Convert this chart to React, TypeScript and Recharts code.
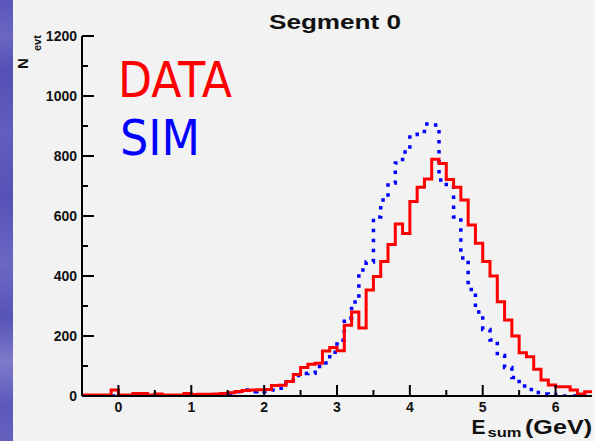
import React from 'react';
import { ComposedChart, Line, XAxis, YAxis, Customized } from 'recharts';

// Histogram binning (GeV)
const BIN_START = -0.5;
const BIN_WIDTH = 0.1;
const X_MIN = -0.5;
const X_MAX = 6.5;
const Y_MAX = 1200;

// DATA counts per 0.1 GeV bin, from -0.5 to 6.5 GeV
const dataCounts = [
  3, 3, 3, 3, 20, 3, 3, 8, 8, 3,
  7, 3, 3, 3, 8, 5, 6, 6, 7, 8,
  11, 15, 18, 20, 21, 22, 35, 36, 48, 72,
  95, 106, 109, 150, 162, 151, 236, 280, 227, 353,
  398, 448, 505, 573, 542, 648, 696, 723, 789, 775,
  722, 696, 653, 570, 509, 448, 400, 314, 253, 200,
  144, 131, 89, 53, 37, 31, 31, 20, 7, 14,
];

// SIM counts per 0.1 GeV bin, from -0.5 to 6.5 GeV
const simCounts = [
  0, 0, 0, 0, 0, 0, 0, 0, 0, 0,
  0, 0, 0, 0, 0, 1, 1, 1, 0, 3,
  8, 14, 20, 14, 15, 14, 20, 26, 45, 68,
  75, 76, 98, 110, 146, 186, 260, 313, 420, 447,
  597, 653, 710, 777, 813, 872, 882, 907, 903, 720,
  705, 597, 460, 355, 280, 222, 187, 135, 95, 62,
  33, 22, 12, 7, 5, 2, 0, 0, 0, 0,
];

const xTicks = [0, 0.5, 1, 1.5, 2, 2.5, 3, 3.5, 4, 4.5, 5, 5.5, 6];
const xTickLabels = ['0', '1', '2', '3', '4', '5', '6'];
const yTicks = [0, 100, 200, 300, 400, 500, 600, 700, 800, 900, 1000, 1100, 1200];
const yTickLabels = ['0', '200', '400', '600', '800', '1000', '1200'];

const titleText = 'Segment 0';
const seriesNames = ['DATA', 'SIM'];

const rows = dataCounts.map((d, i) => ({
  e: Number((BIN_START + i * BIN_WIDTH).toFixed(2)),
  data: d,
  sim: simCounts[i],
}));
rows.push({
  e: Number((BIN_START + dataCounts.length * BIN_WIDTH).toFixed(2)),
  data: dataCounts[dataCounts.length - 1],
  sim: simCounts[simCounts.length - 1],
});

const FONT = "'Liberation Sans', Arial, Helvetica, sans-serif";

const XTick = (props: any) => {
  const { x, y, payload } = props;
  const v = payload.value;
  const label = String(v);
  const major = xTickLabels.includes(label);
  return (
    <g>
      <line x1={x} x2={x} y1={y} y2={y - (major ? 11 : 6)} stroke="#000" strokeWidth={2} />
      {major && (
        <text x={x} y={y + 16} textAnchor="middle" fontSize={14} fontWeight="bold" fontFamily={FONT} fill="#111">
          {label}
        </text>
      )}
    </g>
  );
};

const YTick = (props: any) => {
  const { x, y, payload } = props;
  const label = String(payload.value);
  const major = yTickLabels.includes(label);
  return (
    <g>
      <line x1={x} x2={x + (major ? 12 : 6)} y1={y} y2={y} stroke="#000" strokeWidth={2} />
      {major && (
        <text x={x - 5} y={y + 5} textAnchor="end" fontSize={14} fontWeight="bold" fontFamily={FONT} fill="#111">
          {label}
        </text>
      )}
    </g>
  );
};

const Decorations = () => (
  <g>
    <text x={269} y={29} fontSize={21} fontWeight="bold" fontFamily={FONT} fill="#111" textLength={132} lengthAdjust="spacingAndGlyphs">
      {titleText}
    </text>
    <text x={118} y={97} fontSize={50} fontFamily="'DejaVu Sans', Tahoma, sans-serif" fill="#ff0000" textLength={114} lengthAdjust="spacingAndGlyphs">
      {seriesNames[0]}
    </text>
    <text x={120} y={155} fontSize={50} fontFamily="'DejaVu Sans', Tahoma, sans-serif" fill="#0000ff" textLength={80} lengthAdjust="spacingAndGlyphs">
      {seriesNames[1]}
    </text>
    {/* y-axis title N_evt */}
    <text transform="rotate(-90, 28, 69)" x={28} y={69} fontSize={15} fontWeight="bold" fontFamily={FONT} fill="#111">
      N
    </text>
    <text transform="rotate(-90, 41, 51)" x={41} y={51} fontSize={11} fontWeight="bold" fontFamily={FONT} fill="#111">
      evt
    </text>
    {/* x-axis title E_sum (GeV) */}
    <text x={471.5} y={434} fontSize={21} fontWeight="bold" fontFamily={FONT} fill="#111">
      E
    </text>
    <text x={487.5} y={437} fontSize={13} fontWeight="bold" fontFamily={FONT} fill="#111" textLength={34} lengthAdjust="spacingAndGlyphs">
      sum
    </text>
    <text x={525} y={434} fontSize={20} fontWeight="bold" fontFamily={FONT} fill="#111" textLength={67} lengthAdjust="spacingAndGlyphs">
      (GeV)
    </text>
  </g>
);

export default function App() {
  return (
    <div style={{ position: 'absolute', left: 0, top: 0, width: 595, height: 441, background: '#f2f2f2', overflow: 'hidden' }}>
      <div
        style={{
          position: 'absolute',
          left: 0,
          top: 0,
          width: 13,
          height: 441,
          background:
            'linear-gradient(180deg, #5a56ba 0%, #6a66c2 8%, #5450b4 16%, #625ebd 30%, #5652b6 45%, #6b68c4 60%, #5754b7 72%, #7d7acb 82%, #5b58ba 92%, #6561be 100%)',
        }}
      />
      <div style={{ position: 'absolute', left: 0, top: 0 }}>
        <ComposedChart width={595} height={441} data={rows} margin={{ top: 36, right: 3, bottom: 15, left: 22 }}>
          <XAxis
            dataKey="e"
            type="number"
            domain={[X_MIN, X_MAX]}
            ticks={xTicks}
            interval={0}
            allowDataOverflow
            tickSize={0}
            tickMargin={0}
            height={30}
            axisLine={{ stroke: '#000', strokeWidth: 2 }}
            tickLine={false}
            tick={XTick}
          />
          <XAxis
            xAxisId="top"
            orientation="top"
            type="number"
            domain={[X_MIN, X_MAX]}
            height={0}
            tick={false}
            tickLine={false}
            axisLine={{ stroke: '#222', strokeWidth: 1.5 }}
          />
          <YAxis
            type="number"
            domain={[0, Y_MAX]}
            ticks={yTicks}
            interval={0}
            allowDataOverflow
            tickSize={0}
            tickMargin={0}
            width={60}
            axisLine={{ stroke: '#000', strokeWidth: 2 }}
            tickLine={false}
            tick={YTick}
          />
          <YAxis
            yAxisId="right"
            orientation="right"
            type="number"
            domain={[0, Y_MAX]}
            width={0}
            tick={false}
            tickLine={false}
            axisLine={{ stroke: '#222', strokeWidth: 1.5 }}
          />
          <Line
            dataKey="sim"
            type="stepAfter"
            stroke="#0000ff"
            strokeWidth={3.5}
            strokeDasharray="3.5 6.5"
            dot={false}
            activeDot={false}
            isAnimationActive={false}
          />
          <Line
            dataKey="data"
            type="stepAfter"
            stroke="#ff0000"
            strokeWidth={3}
            dot={false}
            activeDot={false}
            isAnimationActive={false}
          />
          <Customized component={Decorations} />
        </ComposedChart>
      </div>
    </div>
  );
}
